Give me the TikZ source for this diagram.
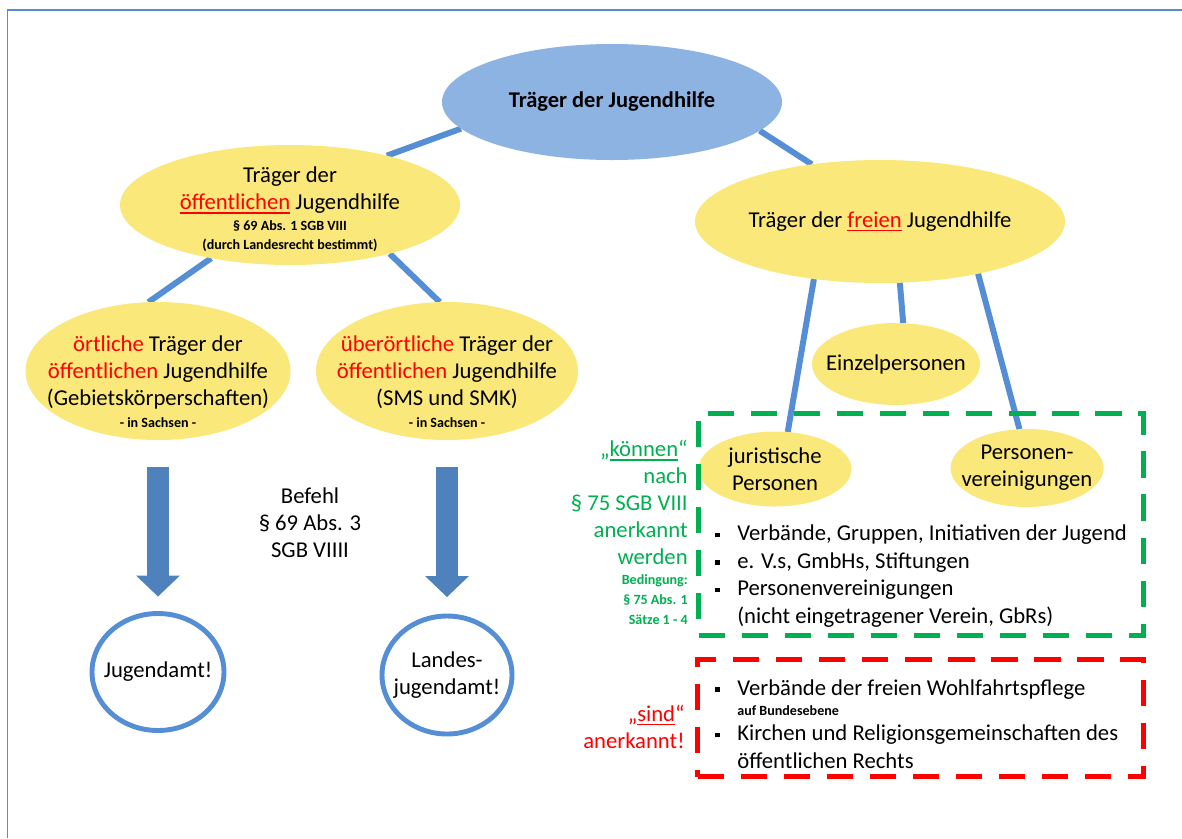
\documentclass[tikz,border=0pt]{standalone}
\usepackage{fontspec}
\setmainfont{Carlito}
\usetikzlibrary{shapes.geometric, arrows.meta, backgrounds, positioning}

\definecolor{topblue}{RGB}{141,179,226}
\definecolor{bubbleyellow}{RGB}{250,232,122}
\definecolor{linkblue}{RGB}{85,142,213}
\definecolor{arrowblue}{RGB}{79,129,189}
\definecolor{kanngreen}{RGB}{0,176,80}
\definecolor{sindred}{RGB}{255,0,0}

\newcommand{\klein}{\fontsize{8}{10}\selectfont\bfseries}
\newcommand{\sqbullet}{\makebox[12.5pt][l]{\rule[2pt]{2.6pt}{2.6pt}}}
\newcommand{\rotwort}[1]{\textcolor{sindred}{#1}}
\newcommand{\unterstr}[1]{\setbox0\hbox{#1}\rlap{\rule[-2.4pt]{\wd0}{1pt}}\box0}

\begin{document}
\begin{tikzpicture}[node distance=1.6cm, auto]
    % Styles
    \tikzstyle{topbubble} = [ellipse, fill=topblue, inner sep=-40pt, outer sep=0pt,
        align=center, font=\fontsize{12.8}{15.3}\selectfont\bfseries]
    \tikzstyle{bubble} = [ellipse, fill=bubbleyellow, inner sep=-40pt, outer sep=0pt,
        align=center, font=\fontsize{12.9}{15.3}\selectfont]
    \tikzstyle{office} = [ellipse, draw=linkblue, line width=2.8pt, inner sep=-40pt,
        outer sep=0pt, align=center, font=\fontsize{12.9}{15.3}\selectfont]
    \tikzstyle{plain} = [align=center, inner sep=0pt, font=\fontsize{12.9}{15.3}\selectfont]
    \tikzstyle{listtext} = [align=left, inner sep=0pt, anchor=west, font=\fontsize{12.9}{15.6}\selectfont]
    \tikzstyle{sidetext} = [align=right, inner sep=0pt, anchor=east, font=\fontsize{12.9}{15.4}\selectfont]
    \tikzstyle{kannbox} = [rectangle, draw=kanngreen, line width=2.8pt, outer sep=0pt,
        dash pattern=on 15pt off 9.5pt]
    \tikzstyle{sindbox} = [rectangle, draw=sindred, line width=2.8pt, outer sep=0pt,
        dash pattern=on 15pt off 9.5pt]
    \tikzstyle{link} = [line width=3.4pt, draw=linkblue]
    \tikzstyle{bigarrow} = [line width=0.44cm, draw=arrowblue,
        -{Triangle[width=0.88cm, length=0.42cm, line width=0pt]}]

    \useasboundingbox (0,0) rectangle (23.64,-16.76);
    \draw [linkblue, line width=1.1pt] (0.15,-16.76) |- (23.64,-0.2);

    % === TOP ===
    \node [topbubble, minimum width=6.8cm, minimum height=2.32cm] (top) at (12.24,-2.04) {Träger der Jugendhilfe};

    % === LEFT: oeffentliche Traeger ===
    \node [bubble, minimum width=6.8cm, minimum height=2.4cm] (oeff) at (5.8,-4.1)
        {\rule{0pt}{14pt}Träger der\\ \rotwort{\unterstr{öffentlichen}} Jugendhilfe\\[-3.3pt]
         {\klein § 69 Abs. 1 SGB VIII}\\[-4.5pt] {\klein (durch Landesrecht bestimmt)}};
    \node [bubble, minimum width=5.3cm, minimum height=2.76cm] (oertl) at (3.16,-7.42)
        {\rule{0pt}{21pt}\rotwort{örtliche} Träger der\\ \rotwort{öffentlichen} Jugendhilfe\\
         (Gebietskörperschaften)\\[-2.8pt] {\klein - in Sachsen -}};
    \node [bubble, minimum width=5.24cm, minimum height=2.76cm] (ueber) at (8.94,-7.42)
        {\rule{0pt}{21pt}\rotwort{überörtliche} Träger der\\ \rotwort{öffentlichen} Jugendhilfe\\
         (SMS und SMK)\\[-2.8pt] {\klein - in Sachsen -}};
    \node [office, below of=oertl, yshift=-4.42cm, minimum width=2.64cm, minimum height=2.34cm] (jamt) {Jugendamt!};
    \node [office, below of=ueber, yshift=-4.48cm, minimum width=2.6cm, minimum height=2.36cm] (ljamt) {Landes-\\jugendamt!};
    \node [plain] (befehl) at (6.2,-10.46) {Befehl\\ § 69 Abs. 3\\ SGB VIIII};

    % === RIGHT: freie Traeger ===
    \node [bubble, minimum width=7.4cm, minimum height=2.46cm] (frei) at (17.6,-4.43)
        {Träger der \rotwort{\unterstr{freien}} Jugendhilfe};
    \node [bubble, minimum width=3.36cm, minimum height=1.64cm] (einzel) at (17.92,-7.28) {Einzelpersonen};
    \node [bubble, minimum width=3.06cm, minimum height=1.5cm] (jur) at (15.5,-9.38) {juristische\\ Personen};
    \node [bubble, minimum width=3.06cm, minimum height=1.56cm] (pers) at (20.54,-9.36) {Personen-\\ vereinigungen};

    % === Boxes ===
    \node [kannbox, minimum width=8.9cm, minimum height=4.44cm] (kannrahmen) at (18.42,-10.49) {};
    \node [sindbox, minimum width=8.92cm, minimum height=2.34cm] (sindrahmen) at (18.41,-14.36) {};
    \node [listtext] (kannliste) at (14.3,-11.52)
        {\sqbullet Verbände, Gruppen, Initiativen der Jugend\\
         \sqbullet e. V.s, GmbHs, Stiftungen\\
         \sqbullet Personenvereinigungen\\
         \hspace*{12.5pt}(nicht eingetragener Verein, GbRs)};
    \node [listtext] (sindliste) at (14.3,-14.48)
        {\sqbullet Verbände der freien Wohlfahrtspflege\\[-4.5pt]
         \hspace*{12.5pt}{\klein auf Bundesebene}\\[-1pt]
         \sqbullet Kirchen und Religionsgemeinschaften des\\
         \hspace*{12.5pt}öffentlichen Rechts};
    \node [sidetext, text=kanngreen] (kannlabel) at (13.76,-10.65)
        {„\unterstr{können}“\\ nach\\ § 75 SGB VIII\\ anerkannt\\ werden\\[-4pt]
         {\klein Bedingung:}\\[-4pt] {\klein § 75 Abs. 1}\\[-4pt] {\klein Sätze 1 - 4}};
    \node [sidetext, text=sindred] (sindlabel) at (13.7,-14.53) {„\unterstr{sind}“\\ anerkannt!};

    % === Connectors ===
    \begin{scope}[on background layer]
        \draw [link] (top.190) -- (oeff.27);
        \draw [link] (top.349) -- (frei.140);
        \draw [link] (oeff.214) -- (oertl.98);
        \draw [link] (oeff.334) -- (ueber.96);
        \draw [link] (frei.221) -- (jur.71);
        \draw [link] (frei.288) -- (einzel.80);
        \draw [link] (frei.332) -- (pers.101);
    \end{scope}
    \draw [bigarrow, shorten <=0.54cm, shorten >=0.34cm] (oertl.south) -- (jamt.north);
    \draw [bigarrow, shorten <=0.54cm, shorten >=0.38cm] (ueber.south) -- (ljamt.north);
\end{tikzpicture}
\end{document}
